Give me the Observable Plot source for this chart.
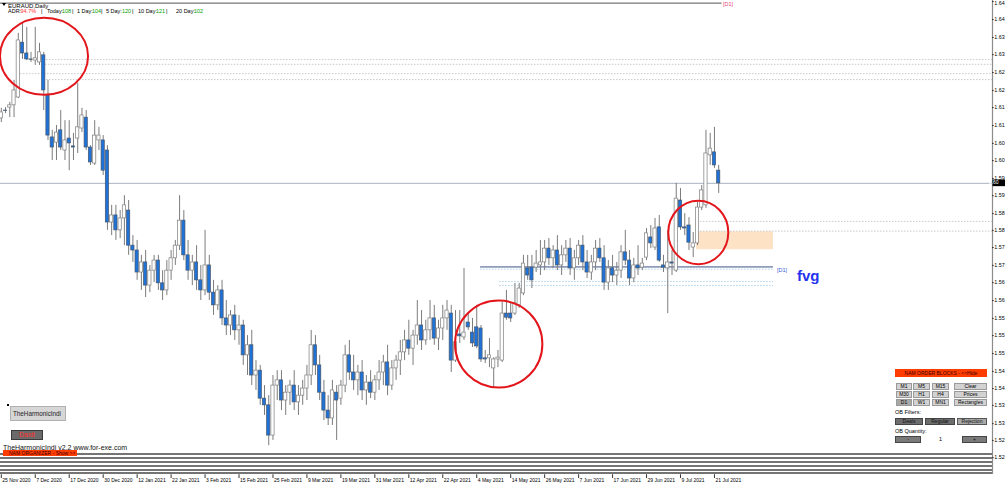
<!DOCTYPE html>
<html><head><meta charset="utf-8">
<script src="https://cdn.jsdelivr.net/npm/d3@7"></script>
<script src="https://cdn.jsdelivr.net/npm/@observablehq/plot@0.6"></script>
<style>
html,body{margin:0;padding:0;background:#fff;overflow:hidden;}
#wrap{position:relative;width:1005px;height:486px;overflow:hidden;font-family:"Liberation Sans",Arial,sans-serif;color:#000;}
#chart{position:absolute;left:0;top:0;}
.ov{position:absolute;white-space:nowrap;line-height:1;}
.b{position:absolute;box-sizing:border-box;background:#d2d2d2;border:1px solid #9a9a9a;font-size:5px;text-align:center;color:#000;white-space:nowrap;overflow:hidden;}
.stripe{position:absolute;left:0;width:992px;height:2px;background:#747474;}
.g{color:#00a000}
</style></head><body>
<div id="wrap">
<div id="chart"></div>
<!-- header -->
<div class="ov" style="left:2px;top:3px;width:0;height:0;border-left:2.5px solid transparent;border-right:2.5px solid transparent;border-top:3px solid #000"></div>
<div class="ov" style="left:8px;top:3px;font-size:6px">EURAUD,Daily</div>
<div class="ov" style="left:8px;top:8.5px;font-size:5.5px">ADR:</div>
<div class="ov" style="left:20.5px;top:8.5px;font-size:5.5px;color:#ff3030">94.7%</div>
<div class="ov" style="left:41px;top:8.5px;font-size:5.5px">|</div>
<div class="ov" style="left:47px;top:8.5px;font-size:5.5px">Today:</div>
<div class="ov g" style="left:62px;top:8.5px;font-size:5.5px">108</div>
<div class="ov" style="left:72px;top:8.5px;font-size:5.5px">|</div>
<div class="ov" style="left:77px;top:8.5px;font-size:5.5px">1 Day:</div>
<div class="ov g" style="left:92px;top:8.5px;font-size:5.5px">104</div>
<div class="ov" style="left:101px;top:8.5px;font-size:5.5px">|</div>
<div class="ov" style="left:106px;top:8.5px;font-size:5.5px">5 Day:</div>
<div class="ov g" style="left:122px;top:8.5px;font-size:5.5px">120</div>
<div class="ov" style="left:132px;top:8.5px;font-size:5.5px">|</div>
<div class="ov" style="left:138px;top:8.5px;font-size:5.5px">10 Day:</div>
<div class="ov g" style="left:156px;top:8.5px;font-size:5.5px">121</div>
<div class="ov" style="left:166px;top:8.5px;font-size:5.5px">|</div>
<div class="ov" style="left:176px;top:8.5px;font-size:5.5px">20 Day:</div>
<div class="ov g" style="left:194px;top:8.5px;font-size:5.5px">102</div>
<div class="ov" style="left:723px;top:1.5px;font-size:5.5px;color:#e8457a">[D1]</div>
<div class="ov" style="left:777px;top:268px;font-size:5.5px;color:#3a5bd0">[D1]</div>
<div class="ov" style="left:797px;top:268px;font-size:15px;font-weight:bold;color:#2233ee;font-family:'Liberation Sans Narrow','Liberation Sans',Arial,sans-serif">fvg</div>
<!-- bottom stripes -->
<div class="stripe" style="top:453px"></div>
<div class="stripe" style="top:457px"></div>
<div class="stripe" style="top:461px"></div>
<div class="stripe" style="top:465px"></div>
<div class="stripe" style="top:468.5px"></div>
<div class="stripe" style="top:472px"></div>
<!-- left bottom widgets -->
<div class="ov" style="left:7px;top:404px;width:2px;height:2px;background:#000"></div>
<div class="b" style="left:10px;top:406px;width:56px;height:15px;background:#d6d6d6;border-color:#b0b0b0;font-size:6.3px;line-height:13px;text-align:left;padding-left:2px;color:#222">TheHarmonicIndi</div>
<div class="b" style="left:11px;top:430px;width:32px;height:10px;background:#6a6a6a;border-color:#3a3a3a;font-size:7px;line-height:8px;color:#ff2b2b">Daxit</div>
<div class="ov" style="left:3px;top:444px;font-size:7px;color:#111">TheHarmonicIndi v2.2 www.for-exe.com</div>
<div class="ov" style="left:3px;top:449.5px;width:74px;height:6.5px;background:#ff3d00;font-size:5px;line-height:6.5px;color:#3a0000;padding-left:6px;box-sizing:border-box">NAM ORGANIZER - Show &gt;&gt;</div>
<!-- right bottom panel -->
<div class="ov" style="left:895px;top:369px;width:92px;height:8px;background:#ff3d00;font-size:5px;line-height:8px;text-align:center;color:#3a0000">NAM ORDER BLOCKS - &lt;&lt;Hide</div>
<div class="b" style="left:896px;top:383px;width:16px;height:7px;line-height:5px">M1</div>
<div class="b" style="left:913px;top:383px;width:17px;height:7px;line-height:5px">M5</div>
<div class="b" style="left:932px;top:383px;width:17px;height:7px;line-height:5px">M15</div>
<div class="b" style="left:954px;top:383px;width:33px;height:7px;line-height:5px">Clear</div>
<div class="b" style="left:896px;top:391px;width:16px;height:7px;line-height:5px">M30</div>
<div class="b" style="left:913px;top:391px;width:17px;height:7px;line-height:5px">H1</div>
<div class="b" style="left:932px;top:391px;width:17px;height:7px;line-height:5px">H4</div>
<div class="b" style="left:954px;top:391px;width:33px;height:7px;line-height:5px">Prices</div>
<div class="b" style="left:896px;top:399px;width:16px;height:7px;line-height:5px;background:#a8a8a8">D1</div>
<div class="b" style="left:913px;top:399px;width:17px;height:7px;line-height:5px">W1</div>
<div class="b" style="left:932px;top:399px;width:17px;height:7px;line-height:5px">MN1</div>
<div class="b" style="left:954px;top:399px;width:33px;height:7px;line-height:5px">Rectangles</div>
<div class="ov" style="left:895px;top:410px;font-size:5.5px">OB Filters:</div>
<div class="b" style="left:895px;top:418px;width:28px;height:7px;line-height:5px;background:#6d6d6d;border-color:#444;color:#111">Deals</div>
<div class="b" style="left:925px;top:418px;width:30px;height:7px;line-height:5px;background:#6d6d6d;border-color:#444;color:#111">Regular</div>
<div class="b" style="left:957px;top:418px;width:30px;height:7px;line-height:5px;background:#a8a8a8;border-color:#555;color:#111">Rejection</div>
<div class="ov" style="left:895px;top:429px;font-size:5.5px">OB Quantity:</div>
<div class="b" style="left:895px;top:436px;width:26px;height:7px;line-height:5px;background:#7a7a7a;border-color:#444;color:#111">-</div>
<div class="ov" style="left:939px;top:437px;font-size:5.5px">1</div>
<div class="b" style="left:962px;top:436px;width:25px;height:7px;line-height:5px;background:#7a7a7a;border-color:#444;color:#111">+</div>
</div>
<script>
// ---------- DATA ----------
// trading days, first entry 24 Nov 2020 (index -1), 25 Nov 2020 = index 0
const firstIndex = -1;
// daily candles [open, high, low, close]
const ohlc = [
[1.6135,1.6183,1.6116,1.6148],[1.6135,1.6162,1.6124,1.6151],[1.6156,1.6164,1.6148,1.6155],[1.6164,1.6178,1.6137,1.6170],
[1.6170,1.6237,1.6137,1.6210],[1.6191,1.6363,1.6188,1.6344],[1.6338,1.6392,1.6293,1.6309],[1.6309,1.6379,1.6290,1.6293],
[1.6293,1.6312,1.6285,1.6292],[1.6290,1.6379,1.6277,1.6296],[1.6285,1.6336,1.6277,1.6312],[1.6304,1.6312,1.6156,1.6210],
[1.6196,1.6237,1.6076,1.6089],[1.6084,1.6103,1.6022,1.6057],[1.6070,1.6116,1.6022,1.6097],[1.6103,1.6156,1.6049,1.6057],
[1.6049,1.6129,1.6022,1.6076],[1.6081,1.6129,1.5995,1.6068],[1.6060,1.6095,1.6022,1.6057],[1.6081,1.6229,1.6041,1.6111],
[1.6108,1.6162,1.6097,1.6143],[1.6137,1.6156,1.6049,1.6057],[1.6057,1.6062,1.6009,1.6017],[1.6014,1.6129,1.6009,1.6089],
[1.6076,1.6111,1.6049,1.6089],[1.6076,1.6089,1.5982,1.5995],[1.6049,1.6062,1.5835,1.5856],[1.5856,1.5902,1.5821,1.5875],
[1.5875,1.5902,1.5808,1.5835],[1.5835,1.5888,1.5813,1.5867],[1.5867,1.5928,1.5794,1.5902],[1.5888,1.5915,1.5768,1.5794],
[1.5794,1.5821,1.5749,1.5781],[1.5781,1.5808,1.5701,1.5722],[1.5722,1.5768,1.5674,1.5749],[1.5749,1.5781,1.5655,1.5687],
[1.5687,1.5741,1.5668,1.5727],[1.5727,1.5768,1.5695,1.5754],[1.5754,1.5768,1.5674,1.5693],[1.5693,1.5727,1.5647,1.5674],
[1.5674,1.5754,1.5660,1.5727],[1.5727,1.5781,1.5701,1.5760],[1.5760,1.5808,1.5741,1.5794],[1.5794,1.5928,1.5781,1.5861],
[1.5861,1.5888,1.5754,1.5768],[1.5768,1.5808,1.5701,1.5727],[1.5727,1.5768,1.5687,1.5749],[1.5749,1.5794,1.5674,1.5701],
[1.5701,1.5741,1.5647,1.5674],[1.5674,1.5835,1.5660,1.5741],[1.5741,1.5768,1.5647,1.5668],[1.5668,1.5701,1.5607,1.5634],
[1.5634,1.5687,1.5620,1.5674],[1.5674,1.5701,1.5580,1.5599],[1.5599,1.5647,1.5553,1.5580],[1.5580,1.5620,1.5553,1.5607],
[1.5607,1.5634,1.5540,1.5567],[1.5567,1.5607,1.5527,1.5580],[1.5580,1.5594,1.5473,1.5500],[1.5500,1.5553,1.5446,1.5527],
[1.5527,1.5567,1.5419,1.5446],[1.5446,1.5486,1.5406,1.5459],[1.5459,1.5473,1.5366,1.5384],[1.5384,1.5419,1.5339,1.5366],
[1.5366,1.5392,1.5258,1.5285],[1.5285,1.5446,1.5272,1.5419],[1.5419,1.5459,1.5379,1.5433],[1.5433,1.5459,1.5352,1.5379],
[1.5379,1.5419,1.5339,1.5400],[1.5400,1.5433,1.5366,1.5419],[1.5419,1.5459,1.5352,1.5374],[1.5374,1.5419,1.5339,1.5392],
[1.5392,1.5433,1.5366,1.5411],[1.5411,1.5473,1.5379,1.5446],[1.5446,1.5567,1.5419,1.5527],[1.5527,1.5553,1.5446,1.5473],
[1.5473,1.5500,1.5379,1.5400],[1.5400,1.5433,1.5325,1.5352],[1.5352,1.5392,1.5312,1.5331],[1.5331,1.5433,1.5312,1.5406],
[1.5400,1.5419,1.5272,1.5379],[1.5384,1.5433,1.5366,1.5419],[1.5419,1.5527,1.5400,1.5500],[1.5500,1.5540,1.5433,1.5454],
[1.5454,1.5500,1.5406,1.5433],[1.5433,1.5473,1.5392,1.5454],[1.5454,1.5486,1.5379,1.5406],[1.5406,1.5446,1.5366,1.5427],
[1.5427,1.5459,1.5384,1.5400],[1.5400,1.5446,1.5379,1.5433],[1.5433,1.5486,1.5406,1.5454],[1.5454,1.5500,1.5419,1.5481],
[1.5481,1.5527,1.5392,1.5419],[1.5419,1.5486,1.5406,1.5465],[1.5465,1.5500,1.5433,1.5486],[1.5486,1.5540,1.5446,1.5508],
[1.5508,1.5567,1.5486,1.5540],[1.5540,1.5594,1.5500,1.5518],[1.5518,1.5567,1.5473,1.5553],[1.5553,1.5647,1.5527,1.5580],
[1.5580,1.5620,1.5513,1.5540],[1.5540,1.5594,1.5527,1.5567],[1.5567,1.5647,1.5540,1.5599],[1.5599,1.5634,1.5527,1.5545],
[1.5545,1.5594,1.5513,1.5572],[1.5572,1.5634,1.5540,1.5599],[1.5599,1.5647,1.5567,1.5620],[1.5612,1.5634,1.5454,1.5486],
[1.5486,1.5620,1.5481,1.5535],[1.5556,1.5620,1.5532,1.5551],[1.5548,1.5733,1.5540,1.5561],[1.5588,1.5612,1.5567,1.5575],
[1.5561,1.5599,1.5521,1.5532],[1.5575,1.5634,1.5518,1.5524],[1.5572,1.5580,1.5481,1.5489],[1.5492,1.5513,1.5478,1.5489],
[1.5492,1.5545,1.5467,1.5500],[1.5465,1.5494,1.5411,1.5489],[1.5489,1.5513,1.5467,1.5494],[1.5486,1.5642,1.5481,1.5612],
[1.5612,1.5674,1.5594,1.5601],[1.5612,1.5639,1.5588,1.5599],[1.5612,1.5693,1.5607,1.5639],[1.5634,1.5693,1.5626,1.5679],
[1.5666,1.5768,1.5660,1.5746],[1.5733,1.5768,1.5701,1.5714],[1.5735,1.5768,1.5679,1.5701],[1.5735,1.5781,1.5722,1.5746],
[1.5741,1.5808,1.5714,1.5749],[1.5749,1.5808,1.5727,1.5786],[1.5786,1.5813,1.5741,1.5760],[1.5760,1.5794,1.5733,1.5781],
[1.5781,1.5821,1.5727,1.5741],[1.5741,1.5794,1.5714,1.5768],[1.5768,1.5808,1.5749,1.5786],[1.5786,1.5813,1.5714,1.5733],
[1.5733,1.5781,1.5701,1.5760],[1.5760,1.5808,1.5741,1.5794],[1.5794,1.5821,1.5727,1.5749],[1.5749,1.5781,1.5706,1.5722],
[1.5722,1.5768,1.5701,1.5749],[1.5749,1.5808,1.5727,1.5786],[1.5786,1.5813,1.5749,1.5760],[1.5760,1.5794,1.5674,1.5695],
[1.5695,1.5754,1.5674,1.5733],[1.5733,1.5768,1.5695,1.5714],[1.5714,1.5749,1.5687,1.5727],[1.5727,1.5794,1.5706,1.5776],
[1.5776,1.5835,1.5741,1.5754],[1.5754,1.5781,1.5687,1.5706],[1.5706,1.5760,1.5695,1.5741],[1.5741,1.5794,1.5714,1.5733],
[1.5735,1.5760,1.5727,1.5746],[1.5762,1.5840,1.5754,1.5827],[1.5816,1.5848,1.5786,1.5800],[1.5789,1.5867,1.5781,1.5840],
[1.5843,1.5875,1.5749,1.5754],[1.5741,1.5768,1.5722,1.5735],[1.5733,1.5835,1.5612,1.5749],[1.5749,1.5781,1.5714,1.5746],
[1.5727,1.5961,1.5722,1.5920],[1.5915,1.5947,1.5835,1.5843],[1.5843,1.5880,1.5821,1.5840],[1.5848,1.5869,1.5781,1.5802],
[1.5789,1.5829,1.5762,1.5800],[1.5800,1.5910,1.5794,1.5896],[1.5896,1.5955,1.5888,1.5942],[1.5902,1.6103,1.5894,1.6041],
[1.6036,1.6095,1.6009,1.6054],[1.6044,1.6111,1.6001,1.6009],[1.5995,1.6009,1.5934,1.5961]
];
// x axis labels (every 8th trading day)
const xTickIndex = [0,8,16,24,32,40,48,56,64,72,80,88,96,104,112,120,128,136,144,152,160,168];
const xTickLabels = ["25 Nov 2020","7 Dec 2020","17 Dec 2020","30 Dec 2020","12 Jan 2021","22 Jan 2021","3 Feb 2021","15 Feb 2021","25 Feb 2021","9 Mar 2021","19 Mar 2021","31 Mar 2021","12 Apr 2021","22 Apr 2021","4 May 2021","14 May 2021","26 May 2021","7 Jun 2021","17 Jun 2021","29 Jun 2021","9 Jul 2021","21 Jul 2021"];
// price axis
const yTickValues = [1.6448,1.6400,1.6352,1.6306,1.6258,1.6210,1.6164,1.6116,1.6068,1.6022,1.5974,1.5928,1.5880,1.5835,1.5789,1.5741,1.5695,1.5647,1.5599,1.5553,1.5505,1.5457,1.5411,1.5366,1.5317,1.5272,1.5226];
const yTickLabels = ["1.64","1.64","1.63","1.63","1.62","1.62","1.61","1.61","1.60","1.60","1.59","1.59","1.58","1.58","1.57","1.57","1.56","1.56","1.55","1.55","1.55","1.54","1.54","1.53","1.53","1.52","1.52"];
// visible window (bar index, price)
const xDomain = [-0.188, 233.5];
const yDomain = [1.51807, 1.6451];
// horizontal levels
const dottedLevels = [1.6293, 1.6280, 1.6255, 1.6239, 1.5859, 1.5833];
const dottedStart  = [9.94, 10.4, 4.52, 9.94, 164.0, 164.0];
const d1Level = 1.6444, d1End = 169.8;
const fvgLevel = 1.5737, fvgStart = 112.9, fvgEnd = 181.9;
const fvgDotted = [1.5731, 1.5698, 1.5687];
const fvgDottedStart = [112.9, 117.4, 117.4];
const zone = {x1: 163.77, x2: 181.9, top: 1.5831, bottom: 1.5783};
// red annotation ellipses: center (bar, price), radii (bars, price)
const ringCx = [10.18, 164.31, 117.29];
const ringCy = [1.6300, 1.5828, 1.5529];
const ringRx = [10.37, 7.07, 10.29];
const ringRy = [0.01032, 0.0085, 0.01166];

// ---------- BUILD ----------
const candles = ohlc.map((r, k) => ({i: k + firstIndex, open: r[0], high: r[1], low: r[2], close: r[3]}));
const last = candles[candles.length - 1];
const isUp = d => d.close >= d.open;
const xTicks = xTickIndex.map((i, k) => ({i, label: xTickLabels[k]}));
const yTicks = yTickValues.map((v, k) => ({v, label: yTickLabels[k]}));
const yTopTick = yTicks.slice(0, 1), yOtherTicks = yTicks.slice(1);
const dotted = dottedLevels.map((p, k) => ({p, from: dottedStart[k]}));
const fvgD = fvgDotted.map((p, k) => ({p, from: fvgDottedStart[k]}));
const xMax = xDomain[1];

const plot = Plot.plot({
  width: 1005, height: 486,
  marginLeft: 0, marginRight: 13, marginTop: 0, marginBottom: 12,
  x: {type: "linear", domain: xDomain, axis: null},
  y: {type: "linear", domain: yDomain, axis: null},
  style: {background: "transparent", fontFamily: "'Liberation Sans', Arial, sans-serif", overflow: "visible"},
  marks: [
    Plot.rect([zone], {x1: "x1", x2: "x2", y1: "bottom", y2: "top", fill: "#fde2c6"}),
    Plot.ruleY(dotted, {y: "p", x1: "from", x2: xMax, stroke: "#bcbcbc", strokeWidth: 0.8, strokeDasharray: "1.5,1.5"}),
    Plot.ruleY(fvgD, {y: "p", x1: "from", x2: fvgEnd, stroke: "#9cc6e6", strokeWidth: 0.8, strokeDasharray: "1.5,1.5"}),
    Plot.ruleY([last.close], {x1: xDomain[0], x2: xMax, stroke: "#aab3c2", strokeWidth: 1}),
    Plot.ruleY([d1Level], {x1: xDomain[0], x2: d1End, stroke: "#555555", strokeWidth: 1}),
    Plot.ruleY([fvgLevel], {x1: fvgStart, x2: fvgEnd, stroke: "#8e9cba", strokeWidth: 1.6}),
    Plot.ruleX(candles, {x: "i", y1: "low", y2: "high", stroke: "#7c7c7c", strokeWidth: 1}),
    Plot.rect(candles, {
      x1: d => d.i - 0.38, x2: d => d.i + 0.38, y1: "open", y2: "close",
      fill: d => isUp(d) ? "#ffffff" : "#1f72d8",
      stroke: d => isUp(d) ? "#7d7d7d" : "#46566b", strokeWidth: 0.7
    }),
    Plot.ruleX([xMax], {stroke: "#8c8c8c", strokeWidth: 1.2}),
    Plot.ruleY(yTicks, {y: "v", x1: xMax, x2: xMax + 0.4, stroke: "#333"}),
    Plot.text(yOtherTicks, {x: xMax, y: "v", text: "label", dx: 1.8, textAnchor: "start", fontSize: 5.4, fill: "#000"}),
    Plot.text(yTopTick, {x: xMax, y: "v", text: "label", dx: 1.8, textAnchor: "start", lineAnchor: "top", dy: -0.5, fontSize: 5.4, fill: "#000"}),
    Plot.ruleX(xTicks, {x: "i", y1: 1.5180, y2: 1.5170, stroke: "#333"}),
    Plot.text(xTicks, {x: "i", text: "label", frameAnchor: "bottom", dy: 7, dx: 1, textAnchor: "start", fontSize: 5, fill: "#000"})
  ]
});
document.getElementById("chart").appendChild(plot);

const sx = plot.scale("x"), sy = plot.scale("y");
const svg = d3.select(plot);
ringCx.forEach((cx, k) => {
  const px = sx.apply(cx), py = sy.apply(ringCy[k]);
  svg.append("ellipse")
    .attr("cx", px).attr("cy", py)
    .attr("rx", sx.apply(cx + ringRx[k]) - px)
    .attr("ry", sy.apply(ringCy[k] - ringRy[k]) - py)
    .attr("fill", "none").attr("stroke", "#e3161c").attr("stroke-width", 2);
});
// current price tag
const ty = sy.apply(last.close);
svg.append("rect").attr("x", 992.5).attr("y", ty - 3.3).attr("width", 12.5).attr("height", 6.6).attr("fill", "#000");
svg.append("text").attr("x", 993.6).attr("y", ty).attr("dy", "0.32em").attr("font-size", 5).attr("fill", "#fff").text(last.close.toFixed(2));
</script>
</body></html>
